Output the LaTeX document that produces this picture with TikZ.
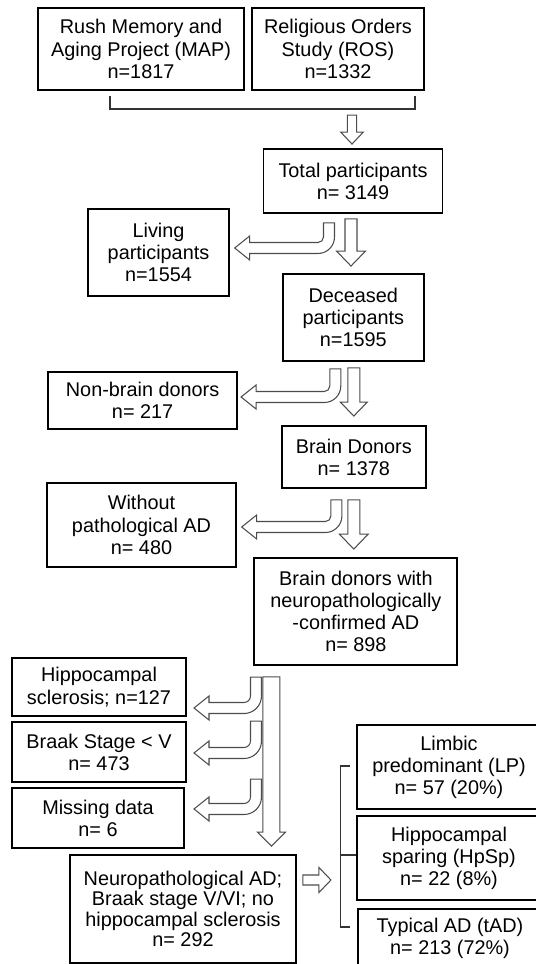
\documentclass[tikz,border=0pt]{standalone}
\usepackage{fontspec}
\setmainfont{Liberation Sans}
\usetikzlibrary{calc}

% hollow block arrows: top/left start, tip, shaft half width, head half width, head length
\newcommand{\downblock}[5]{%
  \draw[blockarrow] ($(#1)+(-#3,0)$) -- ($(#1)+(#3,0)$) -- ($(#2)+(#3,-#5)$)
    -- ($(#2)+(#4,-#5)$) -- (#2) -- ($(#2)+(-#4,-#5)$) -- ($(#2)+(-#3,-#5)$) -- cycle;}
\newcommand{\rightblock}[5]{%
  \draw[blockarrow] ($(#1)+(0,-#3)$) -- ($(#2)+(-#5,-#3)$) -- ($(#2)+(-#5,-#4)$)
    -- (#2) -- ($(#2)+(-#5,#4)$) -- ($(#2)+(-#5,#3)$) -- ($(#1)+(0,#3)$) -- cycle;}
% bent arrow: top of shaft, tip, bend radius
\newcommand{\bentblock}[3]{%
  \draw[blockarrow] ($(#1)+(-5.5,0)$) -- ($(#1)+(5.5,0)$) -- ($(#1 |- #2)+(5.5,-#3)$)
    arc[start angle=0, end angle=90, radius=#3+5.5] -- ($(#2)+(15,5.5)$)
    -- ($(#2)+(15,12)$) -- (#2) -- ($(#2)+(15,-12)$) -- ($(#2)+(15,-5.5)$)
    -- ($(#1 |- #2)+(-#3,-5.5)$) arc[start angle=90, end angle=0, radius=#3-5.5] -- cycle;}

\begin{document}
\begin{tikzpicture}[x=0.02cm, y=-0.02cm,
    box/.style={draw, line width=1.1pt, align=center, inner sep=0pt,
      font=\fontsize{11.3}{12.6}\selectfont},
    blockarrow/.style={draw=black!70, line width=0.6pt, fill=white},
    bracket/.style={draw=black!80, line width=0.7pt}]
    \useasboundingbox (0,0) rectangle (536,964);
    \clip (0,0) rectangle (536,964);

    \node[box, minimum width=4.12cm, minimum height=1.64cm] (map) at (141,49)
        {Rush Memory and\\Aging Project (MAP)\\n=1817};
    \node[box, minimum width=3.44cm, minimum height=1.64cm] (ros) at (338,49)
        {Religious Orders\\Study (ROS)\\n=1332};
    \node[box, minimum width=3.58cm, minimum height=1.28cm] (total) at (353,181)
        {Total participants\\n= 3149};
    \node[box, minimum width=2.81cm, minimum height=1.74cm] (living) at (158.5,252.5)
        {Living\\participants\\n=1554};
    \node[box, minimum width=2.81cm, minimum height=1.74cm] (deceased) at (353.3,317.5)
        {Deceased\\participants\\n=1595};
    \node[box, minimum width=3.78cm, minimum height=1.14cm] (nonbrain) at (142.6,400.5)
        {Non-brain donors\\n= 217};
    \node[box, minimum width=2.87cm, minimum height=1.24cm] (donors) at (353.8,457)
        {Brain Donors\\n= 1378};
    \node[box, minimum width=3.77cm, minimum height=1.68cm] (without) at (141.5,525)
        {Without\\pathological AD\\n= 480};
    \node[box, minimum width=4.06cm, minimum height=2.14cm] (confirmed) at (355.9,611.5)
        {Brain donors with\\neuropathologically\\-confirmed AD\\n= 898};
    \node[box, minimum width=3.47cm, minimum height=1.16cm] (hs) at (99,687)
        {Hippocampal\\sclerosis; n=127};
    \node[box, minimum width=3.47cm, minimum height=1.2cm] (braak) at (99,752)
        {Braak Stage < V\\n= 473};
    \node[box, minimum width=3.43cm, minimum height=1.2cm] (missing) at (98,818)
        {Missing data\\n= 6};
    \node[box, minimum width=4.52cm, minimum height=2.16cm,
        font=\fontsize{11.3}{11.6}\selectfont] (final) at (183,909)
        {Neuropathological AD;\\Braak stage V/VI; no\\hippocampal sclerosis\\n= 292};
    \node[box, minimum width=3.68cm, minimum height=1.68cm] (lp) at (449,767)
        {Limbic\\predominant (LP)\\n= 57 (20\%)};
    \node[box, minimum width=3.68cm, minimum height=1.68cm] (hpsp) at (449,858)
        {Hippocampal\\sparing (HpSp)\\n= 22 (8\%)};
    \node[box, minimum width=3.68cm, minimum height=1.18cm] (tad) at (450,938.5)
        {Typical AD (tAD)\\n= 213 (72\%)};

    % brackets
    \coordinate (brl) at ($(map.south)+(-31,5)$);
    \coordinate (brr) at ($(ros.south)+(77,5)$);
    \draw[bracket] (brl) -- ++(0,13) -| (brr);
    \draw[bracket] ($(hpsp.west)+(-6,-92)$) -- ++(-9.5,0) -- ++(0,161) -- ++(9.5,0);
    \draw[bracket] ($(hpsp.west)+(-15.5,-3)$) -- ++(15.5,0);

    % straight arrows
    \coordinate (s0) at ($(total.north)+(-1,-33)$);
    \coordinate (s0t) at ($(total.north)+(-1,-4)$);
    \downblock{s0}{s0t}{4.6}{11.3}{12}
    \coordinate (s1) at ($(total.south)+(-2,5)$);
    \coordinate (s1t) at ($(s1 |- deceased.north)+(0,-7)$);
    \downblock{s1}{s1t}{6}{14.5}{15}
    \coordinate (s2) at ($(deceased.south)+(0.5,6)$);
    \coordinate (s2t) at ($(s2 |- donors.north)+(0,-9)$);
    \downblock{s2}{s2t}{6}{13.5}{14}
    \coordinate (s3) at ($(donors.south)+(0,11)$);
    \coordinate (s3t) at ($(s3 |- confirmed.north)+(0,-8)$);
    \downblock{s3}{s3t}{6}{14.5}{15}
    \coordinate (l1) at ($(confirmed.south west)+(18,11)$);
    \coordinate (l1t) at ($(l1 |- final.north)+(0,-8)$);
    \downblock{l1}{l1t}{8.5}{14}{14}
    \coordinate (r1) at ($(final.east)+(6,-29)$);
    \coordinate (r1t) at ($(r1)+(28,0)$);
    \rightblock{r1}{r1t}{5}{12.5}{12}

    % bent arrows
    \coordinate (b1) at ($(total.south)+(-24,9)$);
    \coordinate (b1t) at ($(living.east)+(5,-4.5)$);
    \bentblock{b1}{b1t}{11}
    \coordinate (b2) at ($(deceased.south)+(-18,7)$);
    \coordinate (b2t) at ($(nonbrain.east)+(3,-3.5)$);
    \bentblock{b2}{b2t}{11}
    \coordinate (b3) at ($(donors.south)+(-17.4,11)$);
    \coordinate (b3t) at ($(without.east)+(5,2)$);
    \bentblock{b3}{b3t}{11}
    \coordinate (c1) at ($(hs.north east)+(69.3,20)$);
    \coordinate (c1t) at ($(hs.east)+(7.3,21)$);
    \bentblock{c1}{c1t}{12}
    \coordinate (c2) at ($(braak.north east)+(69.3,0)$);
    \coordinate (c2t) at ($(braak.east)+(7.3,1)$);
    \bentblock{c2}{c2t}{12}
    \coordinate (c3) at ($(missing.north east)+(71.3,-8)$);
    \coordinate (c3t) at ($(missing.east)+(9.3,-9)$);
    \bentblock{c3}{c3t}{12}
\end{tikzpicture}
\end{document}
